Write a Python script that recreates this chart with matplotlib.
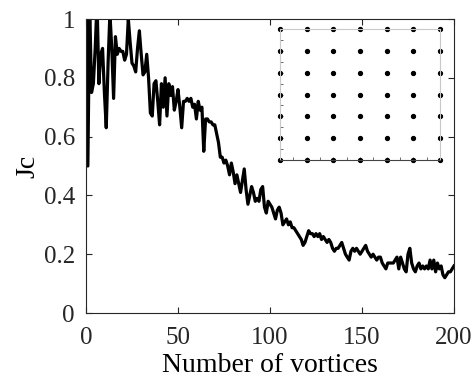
import matplotlib
matplotlib.use("Agg")
import matplotlib.pyplot as plt
import numpy as np

# Jc versus number of vortices
n_vortices = list(range(0, 201))
jc = [
    1.10, 0.50, 1.05, 0.75, 0.78, 0.90, 1.06, 0.78, 0.88, 0.90,
    0.75, 0.63, 0.85, 1.02, 0.90, 0.73, 0.94, 0.88, 0.90, 0.89,
    0.89, 0.86, 0.88, 1.00, 0.92, 0.85, 0.84, 0.82, 0.90, 0.96,
    0.88, 0.81, 0.82, 0.88, 0.80, 0.68, 0.67, 0.78, 0.79, 0.72,
    0.64, 0.78, 0.70, 0.80, 0.67, 0.78, 0.74, 0.77, 0.69, 0.72,
    0.76, 0.70, 0.63, 0.72, 0.72, 0.73, 0.72, 0.73, 0.70, 0.71,
    0.66, 0.72, 0.69, 0.70, 0.55, 0.66, 0.66, 0.65, 0.65, 0.64,
    0.64, 0.61, 0.58, 0.53, 0.53, 0.51, 0.52, 0.50, 0.47, 0.51,
    0.48, 0.44, 0.47, 0.44, 0.41, 0.45, 0.49, 0.42, 0.37, 0.40,
    0.43, 0.41, 0.38, 0.39, 0.38, 0.42, 0.43, 0.36, 0.34, 0.38,
    0.37, 0.36, 0.34, 0.32, 0.35, 0.36, 0.34, 0.30, 0.31, 0.32,
    0.30, 0.31, 0.29, 0.29, 0.28, 0.27, 0.26, 0.25, 0.23, 0.24,
    0.26, 0.28, 0.27, 0.27, 0.26, 0.27, 0.26, 0.27, 0.25, 0.26,
    0.25, 0.24, 0.25, 0.24, 0.22, 0.21, 0.22, 0.22, 0.23, 0.24,
    0.22, 0.20, 0.19, 0.18, 0.21, 0.22, 0.21, 0.22, 0.21, 0.20,
    0.21, 0.22, 0.23, 0.21, 0.20, 0.19, 0.20, 0.19, 0.18, 0.19,
    0.19, 0.17, 0.16, 0.15, 0.17, 0.17, 0.17, 0.17, 0.18, 0.19,
    0.15, 0.19, 0.17, 0.15, 0.14, 0.20, 0.22, 0.17, 0.15, 0.14,
    0.16, 0.17, 0.15, 0.16, 0.15, 0.16, 0.15, 0.18, 0.15, 0.18,
    0.14, 0.17, 0.15, 0.16, 0.13, 0.12, 0.13, 0.14, 0.14, 0.15,
    0.16,
]

# vortex lattice shown in the inset (7 x 7)
lattice_cols = [0, 1, 2, 3, 4, 5, 6]
lattice_rows = [0, 1, 2, 3, 4, 5, 6]

xticks = [0, 50, 100, 150, 200]
yticks = [0, 0.2, 0.4, 0.6, 0.8, 1]
ytick_labels = ["0", "0.2", "0.4", "0.6", "0.8", "1"]


def main():
    plt.rcParams["font.family"] = ["Liberation Serif", "DejaVu Serif"]
    fig = plt.figure(figsize=(4.74, 3.78), dpi=100)
    ax = fig.add_axes([86 / 474, 1 - 313 / 378, 368 / 474, 294 / 378])

    ax.plot(n_vortices, jc, color="black", linewidth=2.3)
    ax.set_xlim(0, 200)
    ax.set_ylim(0, 1)
    ax.set_xticks(xticks)
    ax.set_yticks(yticks)
    ax.set_yticklabels(ytick_labels)
    ax.tick_params(direction="in", top=True, right=True, length=4,
                   width=0.8, labelsize=18, colors="#262626")
    ax.tick_params(axis="x", pad=10)
    ax.tick_params(axis="y", pad=8)
    for s in ax.spines.values():
        s.set_color("#262626")
        s.set_linewidth(0.8)
    ax.set_xlabel("Number of vortices", fontsize=20, labelpad=3)
    ax.set_ylabel("Jc", fontsize=20, labelpad=2)

    # inset with the vortex positions
    ins = fig.add_axes([280 / 474, 1 - 160 / 378, 160 / 474, 131 / 378])
    xs, ys = np.meshgrid(lattice_cols, lattice_rows)
    ins.plot(xs.ravel(), ys.ravel(), "o", color="black", markersize=2.8,
             clip_on=False)
    ins.set_xlim(0, 6)
    ins.set_ylim(0, 6)
    ins.set_xticks(np.arange(0.5, 6, 0.5))
    ins.set_yticks(np.arange(0.5, 6, 0.5))
    ins.set_xticklabels([])
    ins.set_yticklabels([])
    ins.tick_params(direction="in", length=2, width=0.6, colors="#555555")
    for s in ins.spines.values():
        s.set_color("#c8c8c8")
        s.set_linewidth(0.8)
    ins.spines["bottom"].set_color("#444444")
    ins.patch.set_alpha(0)

    fig.savefig("out.png", dpi=100)


if __name__ == "__main__":
    main()
